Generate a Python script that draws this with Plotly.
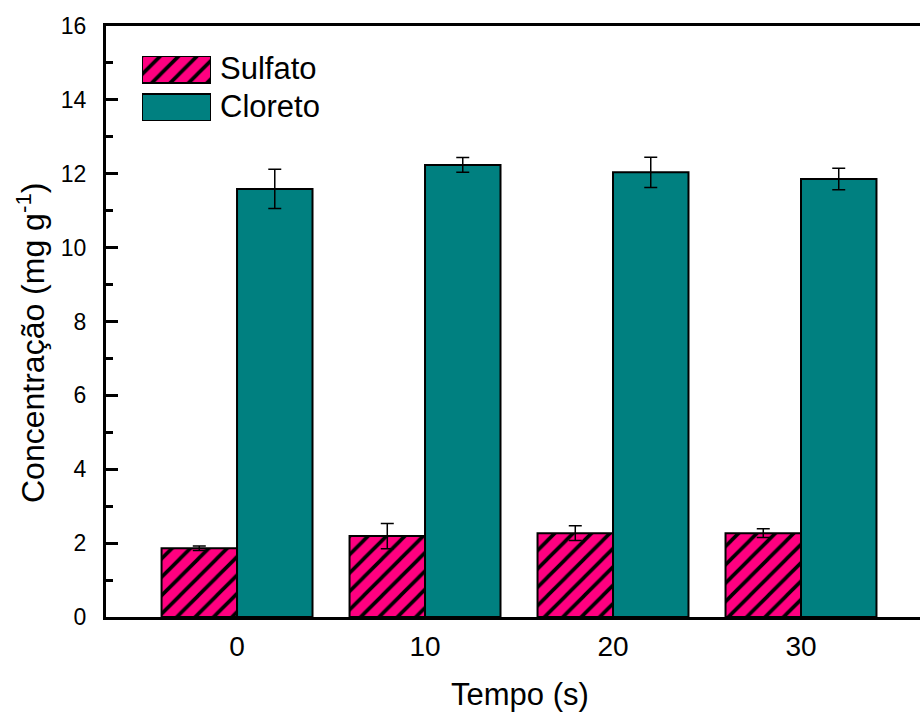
import plotly.graph_objects as go

tempo = ["0", "10", "20", "30"]
sulfato = [1.86, 2.19, 2.27, 2.27]
sulfato_err = [0.06, 0.34, 0.20, 0.12]
cloreto = [11.59, 12.24, 12.04, 11.86]
cloreto_err = [0.53, 0.20, 0.41, 0.29]

PINK = "#FF0080"
TEAL = "#008080"
FONT = "Liberation Sans, Arial, sans-serif"

W, H = 920, 713
ML, MR, MT, MB = 106, 0, 26, 96
PW, PH = W - ML - MR, H - MT - MB

def px_x(p):
    return (p - ML) / PW

def px_y(p):
    return (H - MB - p) / PH

pattern_s = dict(shape="/", fgcolor="black", bgcolor=PINK,
                 size=13, solidity=0.28, fillmode="replace")

fig = go.Figure()

fig.add_trace(go.Bar(
    x=tempo, y=sulfato, name="Sulfato",
    marker=dict(color=PINK, line=dict(color="black", width=2), pattern=pattern_s),
    error_y=dict(type="data", array=sulfato_err, color="black",
                 thickness=1.5, width=6.5),
    showlegend=False,
))
fig.add_trace(go.Bar(
    x=tempo, y=cloreto, name="Cloreto",
    marker=dict(color=TEAL, line=dict(color="black", width=2)),
    error_y=dict(type="data", array=cloreto_err, color="black",
                 thickness=1.5, width=6.5),
    showlegend=False,
))

# custom legend (large boxes like the original)
fig.add_trace(go.Bar(
    y=["Sulfato"], x=[1], orientation="h", offsetgroup="leg",
    xaxis="x2", yaxis="y2", width=0.71,
    marker=dict(color=PINK, line=dict(color="black", width=2), pattern=pattern_s),
    showlegend=False, hoverinfo="skip",
))
fig.add_trace(go.Bar(
    y=["Cloreto"], x=[1], orientation="h", offsetgroup="leg",
    xaxis="x2", yaxis="y2", width=0.71,
    marker=dict(color=TEAL, line=dict(color="black", width=2)),
    showlegend=False, hoverinfo="skip",
))
for name in ["Sulfato", "Cloreto"]:
    fig.add_annotation(xref="x2", yref="y2", x=1, y=name, text=name,
                       showarrow=False, xanchor="left", xshift=7, yshift=1,
                       font=dict(family=FONT, size=31, color="black"))

# axis titles
fig.add_annotation(xref="paper", yref="paper", x=px_x(520), y=px_y(694),
                   text="Tempo (s)", showarrow=False,
                   xanchor="center", yanchor="middle",
                   font=dict(family=FONT, size=31, color="black"))
fig.add_annotation(xref="paper", yref="paper", x=px_x(31), y=px_y(343),
                   text="Concentração (mg g<sup>-1</sup>)", showarrow=False,
                   textangle=-90, xanchor="center", yanchor="middle",
                   font=dict(family=FONT, size=32, color="black"))

fig.update_layout(
    width=W, height=H,
    margin=dict(l=ML, r=MR, t=MT, b=MB),
    paper_bgcolor="white", plot_bgcolor="white",
    barmode="group", bargap=0.197, bargroupgap=0,
    font=dict(family=FONT, color="black"),
    xaxis=dict(
        type="category", range=[-0.697, 3.633],
        showline=True, linecolor="black", linewidth=3, mirror=True,
        ticks="", showgrid=False, zeroline=False,
        tickfont=dict(size=28, family=FONT), ticklabelstandoff=2,
    ),
    yaxis=dict(
        range=[0, 16], dtick=2, tick0=0,
        showline=True, linecolor="black", linewidth=3,
        ticks="inside", ticklen=12, tickwidth=2.5, tickcolor="black",
        minor=dict(dtick=1, ticks="inside", ticklen=7, tickwidth=2.5, tickcolor="black", showgrid=False),
        showgrid=False, zeroline=False,
        tickfont=dict(size=23, family=FONT), ticklabelstandoff=12,
    ),
    xaxis2=dict(domain=[px_x(142), px_x(211)], range=[0, 1], anchor="y2",
                visible=False, fixedrange=True),
    yaxis2=dict(domain=[px_y(121), px_y(56)], range=[-0.355, 1.355], anchor="x2",
                type="category", categoryorder="array",
                categoryarray=["Cloreto", "Sulfato"],
                visible=False, fixedrange=True),
)

fig.write_html("out.html", config={"displayModeBar": False},
               post_script="document.body.style.margin='0';")
